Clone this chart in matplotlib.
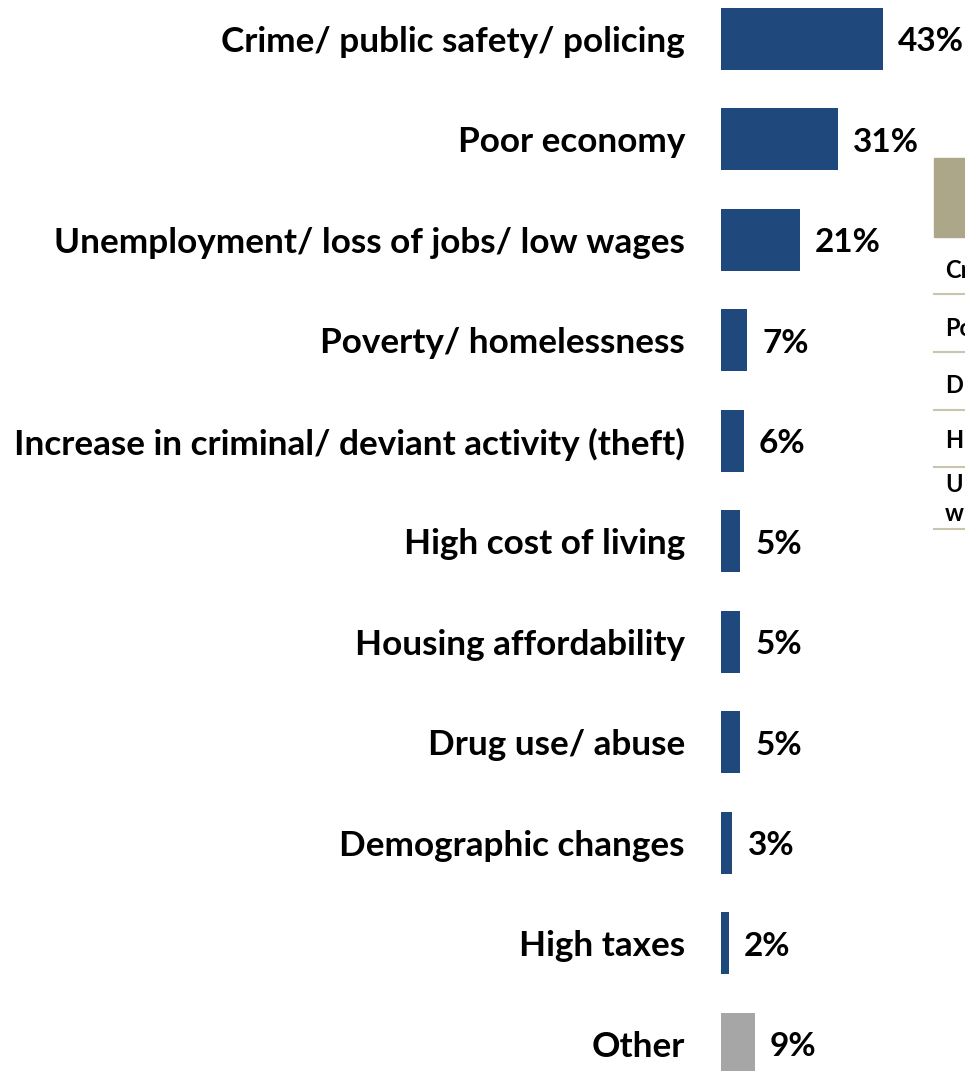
import matplotlib
matplotlib.use("Agg")
import matplotlib.pyplot as plt
from matplotlib.patches import Rectangle
from matplotlib.lines import Line2D

plt.rcParams['font.family'] = ['Lato', 'DejaVu Sans']

categories = [
    "Crime/ public safety/ policing",
    "Poor economy",
    "Unemployment/ loss of jobs/ low wages",
    "Poverty/ homelessness",
    "Increase in criminal/ deviant activity (theft)",
    "High cost of living",
    "Housing affordability",
    "Drug use/ abuse",
    "Demographic changes",
    "High taxes",
    "Other",
]
values = [43, 31, 21, 7, 6, 5, 5, 5, 3, 2, 9]
bar_colors = ["#1F497D"] * 10 + ["#A6A6A6"]

side_header_color = "#ADA78A"
side_rows = ["Cr", "Po", "D", "H", "U\nw"]

W, H = 965, 1071
fig = plt.figure(figsize=(W / 100, H / 100), dpi=100)

px_per_pct = 3.76
ax_left = 721
ax_w = 240
ax = fig.add_axes([ax_left / W, 0, ax_w / W, 1])
step = 100.5
first_c = 39
ax.set_xlim(0, ax_w / px_per_pct)
ax.set_ylim((H - first_c) / step, -first_c / step)

ypos = list(range(len(categories)))
ax.barh(ypos, values, height=62 / step, color=bar_colors, edgecolor="none")
ax.set_yticks(ypos)
ax.set_yticklabels(categories, fontsize=25.3, fontweight="bold")
ax.tick_params(axis="y", length=0, pad=26)
ax.set_xticks([])
for s in ax.spines.values():
    s.set_visible(False)

for y, v in zip(ypos, values):
    ax.annotate(f"{v}%", xy=(v, y), xytext=(11, -2), textcoords="offset points",
                ha="left", va="center", fontsize=24, fontweight="bold", color="black",
                annotation_clip=False)

# partial side table at right edge
fig.patches.append(Rectangle((934 / W, 1 - 237 / H), 40 / W, 79 / H,
                             transform=fig.transFigure, color=side_header_color))
row_text_y = [271, 328, 385, 441, 499]
line_y = [294, 352, 410, 467, 529]
for t, ty in zip(side_rows, row_text_y):
    fig.text(945 / W, 1 - ty / H, t, fontsize=17, fontweight="bold", va="center",
             ha="left", linespacing=1.35)
for ly in line_y:
    fig.lines.append(Line2D([934 / W, 1], [1 - ly / H, 1 - ly / H],
                            transform=fig.transFigure, color="#C9C4AE", lw=1.5))

fig.savefig("out.png", dpi=100)
